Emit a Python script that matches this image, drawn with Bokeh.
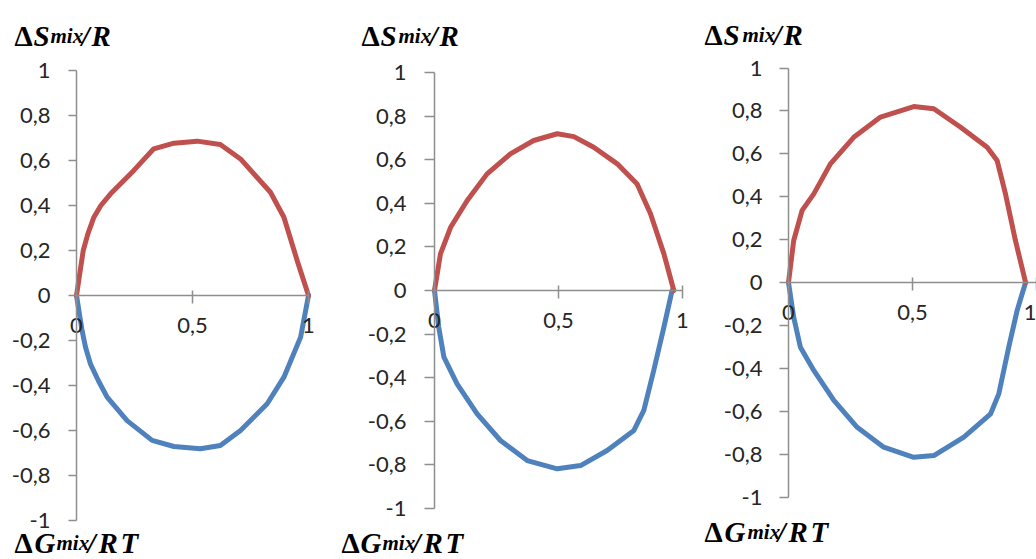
from bokeh.plotting import figure
from bokeh.models import LinearAxis, FixedTicker, Range1d, Label
from bokeh.layouts import row
from bokeh.embed import file_html
from bokeh.resources import INLINE

# ---------------- data ----------------
# Panel 1
p1_x_S = [0.0, 0.029, 0.049, 0.075, 0.105, 0.147, 0.247, 0.333, 0.42, 0.52, 0.62, 0.707, 0.836, 0.894, 0.951, 1.0]
p1_y_S = [0.0, 0.20, 0.274, 0.348, 0.40, 0.452, 0.556, 0.652, 0.677, 0.686, 0.671, 0.607, 0.459, 0.348, 0.156, 0.0]
p1_x_G = [0.0, 0.024, 0.039, 0.06, 0.095, 0.132, 0.218, 0.326, 0.42, 0.534, 0.62, 0.707, 0.822, 0.894, 0.966, 1.0]
p1_y_G = [0.0, -0.156, -0.23, -0.304, -0.38, -0.452, -0.556, -0.644, -0.671, -0.681, -0.667, -0.60, -0.481, -0.363, -0.185, 0.0]
# Panel 2
p2_x_S = [0.0, 0.024, 0.065, 0.132, 0.212, 0.306, 0.40, 0.495, 0.562, 0.642, 0.737, 0.817, 0.871, 0.925, 0.965]
p2_y_S = [0.0, 0.168, 0.29, 0.413, 0.535, 0.627, 0.688, 0.719, 0.706, 0.657, 0.581, 0.489, 0.352, 0.168, 0.0]
p2_x_G = [0.0, 0.017, 0.038, 0.091, 0.172, 0.266, 0.374, 0.495, 0.589, 0.696, 0.804, 0.844, 0.884, 0.925, 0.958]
p2_y_G = [0.0, -0.168, -0.306, -0.428, -0.566, -0.688, -0.78, -0.818, -0.803, -0.734, -0.642, -0.55, -0.367, -0.168, 0.0]
# Panel 3
p3_x_S = [0.0, 0.021, 0.055, 0.102, 0.169, 0.263, 0.371, 0.505, 0.586, 0.694, 0.801, 0.841, 0.875, 0.915, 0.956]
p3_y_S = [0.0, 0.196, 0.336, 0.413, 0.553, 0.677, 0.771, 0.82, 0.81, 0.724, 0.631, 0.569, 0.413, 0.196, 0.0]
p3_x_G = [0.0, 0.021, 0.048, 0.102, 0.183, 0.277, 0.384, 0.505, 0.586, 0.707, 0.815, 0.848, 0.888, 0.922, 0.956]
p3_y_G = [0.0, -0.162, -0.302, -0.41, -0.55, -0.675, -0.768, -0.815, -0.807, -0.721, -0.612, -0.519, -0.302, -0.13, 0.0]

y_ticks = [-1.0, -0.8, -0.6, -0.4, -0.2, 0.0, 0.2, 0.4, 0.6, 0.8, 1.0]
y_tick_labels = ["-1", "-0,8", "-0,6", "-0,4", "-0,2", "0", "0,2", "0,4", "0,6", "0,8", "1"]
x_ticks = [0.0, 0.5, 1.0]
x_tick_labels = ["0", "0,5", "1"]

top_title = ["\u0394", "S", "mix", "/", "R"]
bottom_title = ["\u0394", "G", "mix", "/", "R", "T"]
title_kinds_top = ["delta", "main", "sub", "main", "main"]
title_kinds_bottom = ["delta", "main", "sub", "main", "main", "main"]

RED = "#C0504D"
BLUE = "#4F81BD"
AXIS = "#8E8E8E"
LABEL = "#262626"
H = 559

panels = [
    dict(W=335, off=0, x0=76, xs=232.0, y0=295, ys=225.0, tick_out=8, standoff=18,
         xs_data=(p1_x_S, p1_y_S), xg_data=(p1_x_G, p1_y_G),
         top=(37, [14, 33, 50, 81, 91]), bottom=(544, [14, 34, 56, 87, 98, 120])),
    dict(W=365, off=335, x0=434, xs=248.0, y0=290, ys=218.0, tick_out=10, standoff=18,
         xs_data=(p2_x_S, p2_y_S), xg_data=(p2_x_G, p2_y_G),
         top=(37, [361, 380, 398, 429, 439]), bottom=(544, [341, 360, 382, 412, 423, 445])),
    dict(W=336, off=700, x0=788, xs=248.0, y0=282, ys=214.5, tick_out=9, standoff=17,
         xs_data=(p3_x_S, p3_y_S), xg_data=(p3_x_G, p3_y_G),
         top=(36, [704, 723, 742, 773, 783]), bottom=(533, [704, 724, 747, 777, 788, 810])),
]

# (font size, style, descent in px used to place the text by its bottom edge)
styles = {
    "delta": ("29px", "bold", 14),
    "main": ("29px", "bold italic", 14),
    "sub": ("21px", "bold italic", 10),
}

figs = []
for cfg in panels:
    W, off, x0, xs, y0, ys = cfg["W"], cfg["off"], cfg["x0"], cfg["xs"], cfg["y0"], cfg["ys"]
    xr = Range1d((off - x0) / xs, (off + W - x0) / xs)
    yr = Range1d(-(H - y0) / ys, y0 / ys)
    p = figure(width=W, height=H, x_range=xr, y_range=yr, output_backend="svg",
               toolbar_location=None, x_axis_location=None, y_axis_location=None,
               min_border=0, min_border_left=0, min_border_right=0,
               min_border_top=0, min_border_bottom=0)
    p.outline_line_color = None
    p.xgrid.visible = False
    p.ygrid.visible = False
    p.background_fill_color = "white"
    p.border_fill_color = "white"

    # x axis through y = 0
    xa = LinearAxis(fixed_location=0, bounds=(0, 1),
                    ticker=FixedTicker(ticks=x_ticks))
    xa.major_label_overrides = {t: s for t, s in zip(x_ticks, x_tick_labels)}
    xa.axis_line_color = AXIS
    xa.axis_line_width = 1.5
    xa.major_tick_line_color = AXIS
    xa.major_tick_line_width = 1.5
    xa.major_tick_in = 5
    xa.major_tick_out = 8
    xa.minor_tick_line_color = None
    xa.minor_tick_in = 0
    xa.minor_tick_out = 0
    xa.major_label_standoff = 14
    xa.major_label_text_font = "Lato"
    xa.major_label_text_font_size = "22px"
    xa.major_label_text_color = LABEL
    p.add_layout(xa, "below")

    # y axis through x = 0
    ya = LinearAxis(fixed_location=0, bounds=(-1, 1),
                    ticker=FixedTicker(ticks=y_ticks))
    ya.major_label_overrides = {t: s for t, s in zip(y_ticks, y_tick_labels)}
    ya.axis_line_color = AXIS
    ya.axis_line_width = 1.5
    ya.major_tick_line_color = AXIS
    ya.major_tick_line_width = 1.5
    ya.major_tick_in = 0
    ya.major_tick_out = cfg["tick_out"]
    ya.minor_tick_line_color = None
    ya.minor_tick_in = 0
    ya.minor_tick_out = 0
    ya.major_label_standoff = cfg["standoff"]
    ya.major_label_text_font = "Lato"
    ya.major_label_text_font_size = "22px"
    ya.major_label_text_color = LABEL
    p.add_layout(ya, "left")

    # curves
    gx, gy = cfg["xg_data"]
    sx, sy = cfg["xs_data"]
    p.line(gx, gy, line_color=BLUE, line_width=5, line_join="round", line_cap="round")
    p.line(sx, sy, line_color=RED, line_width=5, line_join="round", line_cap="round")

    # titles (screen positions converted to this panel's data space)
    def dx(gpx):
        return (gpx - x0) / xs

    def dy(py):
        return (y0 - py) / ys

    for (base, lefts), pieces, kinds in ((cfg["top"], top_title, title_kinds_top),
                                        (cfg["bottom"], bottom_title, title_kinds_bottom)):
        for txt, lx, kind in zip(pieces, lefts, kinds):
            size, style, desc = styles[kind]
            p.add_layout(Label(x=dx(lx), y=dy(base + desc), text=txt,
                               text_font="Liberation Serif", text_font_size=size,
                               text_font_style=style, text_color="black",
                               text_align="left", text_baseline="bottom"))
    figs.append(p)

layout = row(*figs, spacing=0)
open("out.html", "w").write(file_html(layout, INLINE))
